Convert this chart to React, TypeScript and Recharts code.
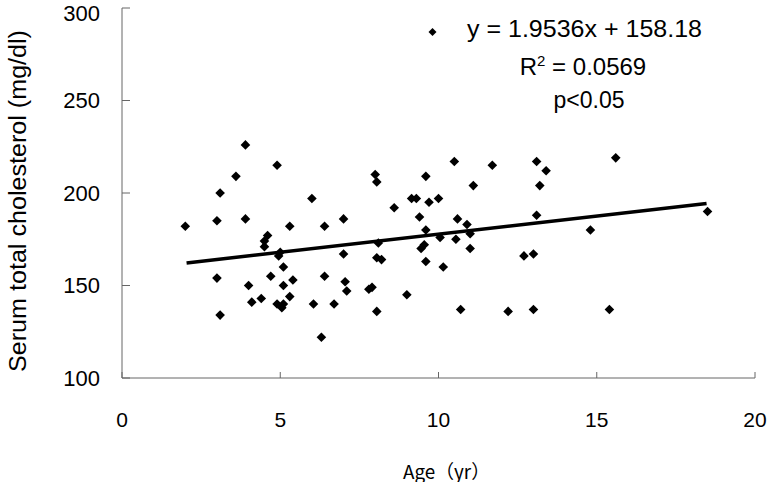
import { ScatterChart, Scatter, XAxis, YAxis } from "recharts";

// values
const ages = [
  2.0, 3.0, 3.1, 3.0, 3.1, 3.6, 3.9, 3.9, 4.0, 4.1, 4.4, 4.5, 4.5, 4.6, 4.7, 4.9, 4.9, 5.0, 4.95, 5.1,
  5.1, 5.4, 5.3, 5.05, 5.1, 5.3, 6.0, 6.4, 7.0, 7.0, 6.4, 7.05, 7.1, 6.05, 6.7, 6.3, 7.8, 7.9, 8.0, 8.05,
  8.1, 8.05, 8.2, 8.05, 8.6, 9.0, 9.15, 9.3, 9.4, 9.6, 9.7, 9.6, 9.55, 9.45, 9.6, 10.0, 10.05, 10.15, 10.5, 10.55,
  10.6, 10.7, 10.9, 11.0, 11.0, 11.1, 11.7, 12.2, 12.7, 13.0, 13.0, 13.1, 13.1, 13.2, 13.4, 14.8, 15.4, 15.6, 18.5,
];
const cholesterol = [
  182, 185, 200, 154, 134, 209, 226, 186, 150, 141, 143, 171, 174, 177, 155, 215, 140, 168, 166, 160,
  150, 153, 144, 138, 140, 182, 197, 182, 186, 167, 155, 152, 147, 140, 140, 122, 148, 149, 210, 206,
  173, 165, 164, 136, 192, 145, 197, 197, 187, 209, 195, 180, 172, 170, 163, 197, 176, 160, 217, 175,
  186, 137, 183, 178, 170, 204, 215, 136, 166, 167, 137, 188, 217, 204, 212, 180, 137, 219, 190,
];

// regression line ends (y = 1.9536x + 158.18)
const trendX = [2.04, 18.47];
const trendY = [162.2, 194.3];

const xTicks = [0, 5, 10, 15, 20];
const yTicks = [100, 150, 200, 250, 300];

const points = ages.map((a, i) => ({ x: a, y: cholesterol[i] }));
const trend = trendX.map((x, i) => ({ x, y: trendY[i] }));

const Diamond = (props: any) => {
  const { cx, cy } = props;
  const r = 4.8;
  return <path d={`M${cx},${cy - r}L${cx + r},${cy}L${cx},${cy + r}L${cx - r},${cy}Z`} fill="#000" />;
};

const arial = "'Liberation Sans', Arial, sans-serif";
const gothic = "'Noto Sans CJK JP', sans-serif";

export default function App() {
  return (
    <div style={{ position: "absolute", left: 0, top: 0, width: 770, height: 482, background: "#fff" }}>
      <ScatterChart width={770} height={482} margin={{ top: 8, right: 15, left: 0, bottom: 0 }}>
        <XAxis
          type="number"
          dataKey="x"
          domain={[0, 20]}
          ticks={xTicks}
          height={104}
          tickSize={-6}
          tickMargin={40}
          stroke="#666"
          tick={{ fill: "#000", fontSize: 21, fontFamily: arial }}
        />
        <YAxis
          type="number"
          dataKey="y"
          domain={[100, 300]}
          ticks={yTicks}
          width={122}
          tickSize={-8}
          tickMargin={30}
          stroke="#666"
          tick={{ fill: "#000", fontSize: 22, fontFamily: arial }}
        />
        <Scatter data={points} shape={Diamond} isAnimationActive={false} />
        <Scatter
          data={trend}
          line={{ stroke: "#000", strokeWidth: 3.5 }}
          shape={() => <g />}
          isAnimationActive={false}
        />
      </ScatterChart>
      <svg width={770} height={482} style={{ position: "absolute", left: 0, top: 0, pointerEvents: "none" }}>
        <text
          x={18}
          y={201}
          transform="rotate(-90 18 201)"
          textAnchor="middle"
          dominantBaseline="central"
          fontFamily={arial}
          fontSize={23}
          textLength={342}
          lengthAdjust="spacingAndGlyphs"
        >
          Serum total cholesterol (mg/dl)
        </text>
        <text
          x={446.5}
          y={470}
          textAnchor="middle"
          dominantBaseline="central"
          fontFamily={gothic}
          fontSize={19}
          textLength={87}
          lengthAdjust="spacingAndGlyphs"
        >
          Age（yr）
        </text>
        <path d="M432.5,28L436.5,32L432.5,36L428.5,32Z" fill="#000" />
        <g fontFamily={arial} fill="#000" textAnchor="middle">
          <text x={584.5} y={37} fontSize={23} textLength={235} lengthAdjust="spacingAndGlyphs">
            y = 1.9536x + 158.18
          </text>
          <text x={583} y={75} fontSize={24}>
            R<tspan fontSize={15} dy={-9}>2</tspan>
            <tspan dy={9}> = 0.0569</tspan>
          </text>
          <text x={589} y={108} fontSize={23}>p&lt;0.05</text>
        </g>
      </svg>
    </div>
  );
}
